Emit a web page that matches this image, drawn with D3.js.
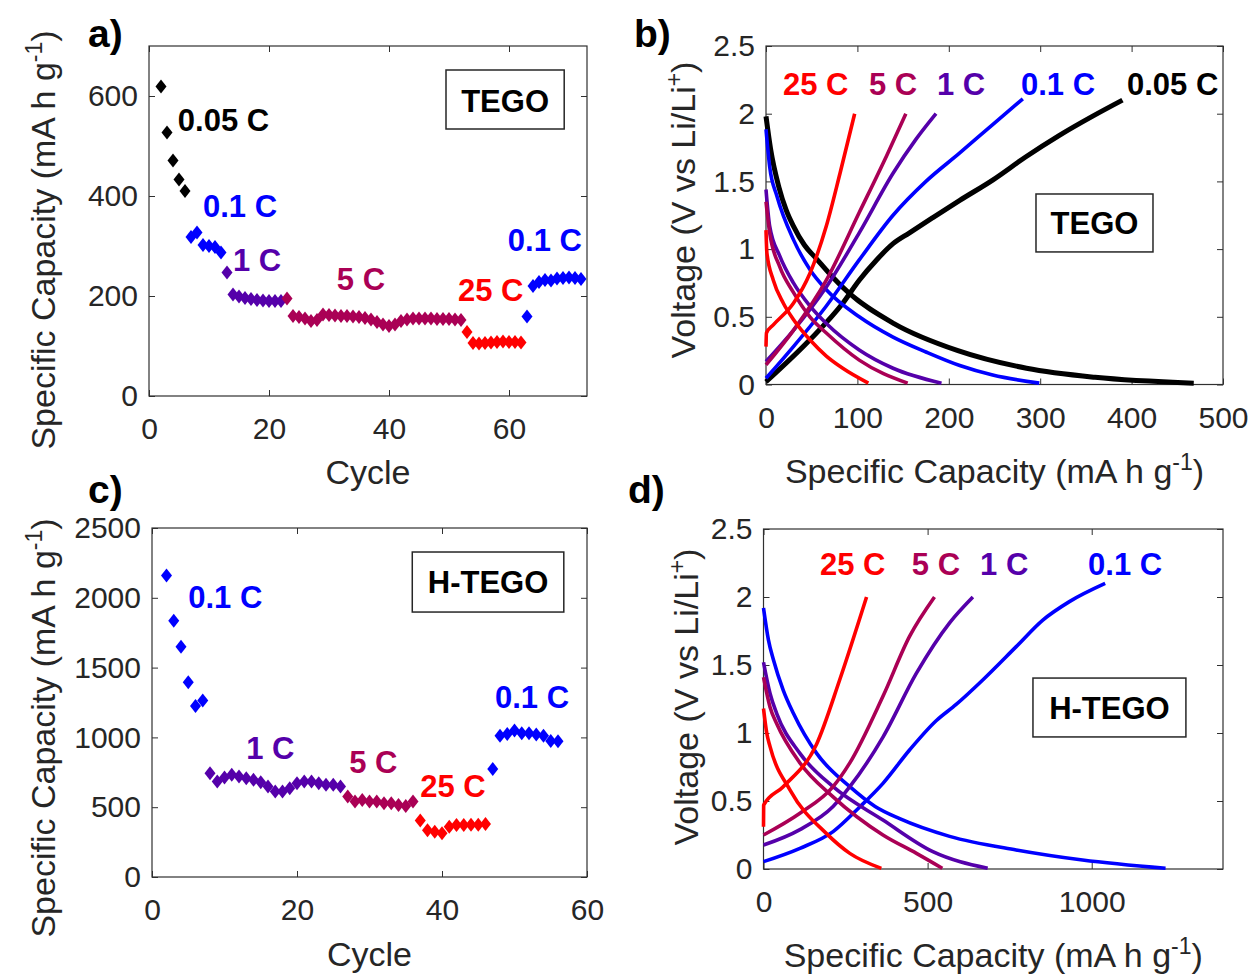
<!DOCTYPE html>
<html lang="en">
<head>
<meta charset="UTF-8">
<title>TEGO / H-TEGO rate performance</title>
<script src="https://cdn.jsdelivr.net/npm/d3@7"></script>
<style>
  body { margin: 0; background: #fff; }
  svg text { font-family: "Liberation Sans", Arial, sans-serif; }
</style>
</head>
<body>
<svg id="fig" width="1250" height="976"></svg>
<script>
// ---------- values ----------
const rateNames  = ["0.05 C", "0.1 C", "1 C", "5 C", "25 C"];
const rateColors = ["#000000", "#0000ff", "#5500aa", "#aa0055", "#ff0000"];

// a) TEGO, capacity vs cycle, one list per rate step
const tegoSteps = ["0.05 C", "0.1 C", "1 C", "5 C", "25 C", "0.1 C"];
const tegoFirstCycle = [2, 7, 13, 23, 53, 63];
const tegoCapacity = [
  [619, 527, 471, 433, 410],
  [318, 327, 302, 300, 298, 287],
  [247, 203, 199, 196, 194, 192, 191, 190, 190, 190],
  [195, 160, 158, 155, 150, 152, 163, 162, 161, 160, 160, 159, 158, 156, 153,
   148, 143, 140, 143, 150, 153, 155, 155, 155, 155, 154, 154, 154, 153, 152],
  [128, 106, 105, 106, 107, 108, 109, 108, 108, 107],
  [159, 220, 228, 232, 231, 235, 236, 237, 236, 234]
];

// c) H-TEGO, capacity vs cycle
const htegoSteps = ["0.1 C", "1 C", "5 C", "25 C", "0.1 C"];
const htegoFirstCycle = [2, 8, 27, 37, 47];
const htegoCapacity = [
  [2160, 1835, 1650, 1395, 1225, 1265],
  [744, 684, 712, 732, 720, 708, 696, 679, 648, 612, 612, 636, 672, 684, 684, 672, 660, 660, 648],
  [576, 540, 552, 540, 540, 528, 528, 516, 509, 540],
  [404, 335, 325, 313, 360, 373, 373, 375, 375, 380],
  [773, 1012, 1024, 1050, 1030, 1030, 1020, 1012, 975, 972]
];

// b) TEGO voltage profiles [capacity, voltage]
const tegoDis005 = [[0,1.98],[5,1.74],[14,1.46],[22,1.29],[30,1.17],[42,1.03],[55,0.93],[72,0.80],[90,0.68],[140,0.45],[210,0.25],[285,0.12],[360,0.053],[468,0.01]];
const tegoChg005 = [[0,0.02],[48,0.33],[84,0.60],[102,0.77],[121,0.92],[139,1.04],[157,1.12],[182,1.23],[212,1.36],[248,1.51],[284,1.68],[321,1.84],[357,1.98],[390,2.10]];
const tegoDis01  = [[0,1.885],[4,1.61],[12,1.39],[30,1.07],[48,0.85],[66,0.70],[102,0.50],[139,0.35],[175,0.24],[212,0.14],[248,0.07],[299,0.01]];
const tegoChg01  = [[0,0.046],[30,0.28],[66,0.58],[102,0.92],[139,1.25],[175,1.50],[212,1.71],[248,1.92],[281,2.11]];
const tegoDis1   = [[0,1.44],[4,1.17],[15,0.95],[30,0.75],[48,0.58],[66,0.45],[102,0.255],[139,0.12],[192,0.01]];
const tegoChg1   = [[0,0.17],[30,0.40],[66,0.72],[102,1.12],[139,1.56],[164,1.81],[186,2.0]];
const tegoDis5   = [[0,1.35],[4,1.12],[15,0.87],[30,0.68],[48,0.50],[66,0.38],[102,0.18],[155,0.01]];
const tegoChg5   = [[0,0.145],[30,0.40],[66,0.77],[102,1.27],[132,1.69],[153,2.0]];
const tegoDis25  = [[0,1.14],[1,0.97],[8,0.77],[19,0.60],[30,0.48],[48,0.33],[66,0.21],[84,0.12],[112,0.01]];
const tegoChg25  = [[0,0.28],[0.5,0.38],[8,0.44],[30,0.60],[48,0.82],[66,1.17],[81,1.56],[97,2.0]];

// d) H-TEGO voltage profiles [capacity, voltage]
const htegoDis01 = [[0,1.92],[15,1.685],[30,1.54],[60,1.316],[91,1.145],[162,0.85],[263,0.605],[340,0.46],[415,0.37],[567,0.24],[770,0.14],[972,0.066],[1225,0.005]];
const htegoChg01 = [[0,0.054],[111,0.152],[212,0.275],[294,0.458],[364,0.63],[445,0.875],[526,1.09],[587,1.21],[668,1.39],[770,1.635],[851,1.83],[932,1.966],[1041,2.10]];
const htegoDis1  = [[0,1.52],[20,1.29],[40,1.145],[111,0.85],[212,0.605],[364,0.36],[516,0.127],[683,0.005]];
const htegoChg1  = [[0,0.176],[111,0.29],[212,0.46],[263,0.605],[364,0.97],[466,1.44],[567,1.81],[638,2.0]];
const htegoDis5  = [[0,1.41],[20,1.19],[40,1.07],[111,0.78],[212,0.53],[364,0.25],[466,0.115],[545,0.005]];
const htegoChg5  = [[0,0.25],[111,0.41],[212,0.605],[263,0.78],[364,1.27],[445,1.71],[521,2.0]];
const htegoDis25 = [[0,1.18],[10,0.998],[20,0.90],[81,0.58],[192,0.26],[263,0.115],[359,0.005]];
const htegoChg25 = [[0,0.31],[0.5,0.47],[60,0.605],[162,0.92],[232,1.39],[314,2.0]];

// ---------- drawing ----------
const svg = d3.select("#fig");
const axisCol = "#303030";
const color = r => rateColors[rateNames.indexOf(r)];

function makePanel(box, xDom, yDom, xTicks, yTicks) {
  const x = d3.scaleLinear().domain(xDom).range([box.l, box.r]);
  const y = d3.scaleLinear().domain(yDom).range([box.b, box.t]);
  const g = svg.append("g");
  const fmt = d => String(d);

  const axes = [
    [d3.axisBottom(x).tickValues(xTicks).tickFormat(fmt).tickPadding(22), `translate(0,${box.b})`],
    [d3.axisTop(x).tickValues(xTicks).tickFormat(""), `translate(0,${box.t})`],
    [d3.axisLeft(y).tickValues(yTicks).tickFormat(fmt).tickPadding(11), `translate(${box.l},0)`],
    [d3.axisRight(y).tickValues(yTicks).tickFormat(""), `translate(${box.r},0)`]
  ];
  axes.forEach(([ax, tr]) => {
    const a = g.append("g").attr("transform", tr)
      .call(ax.tickSizeInner(-6).tickSizeOuter(0));
    a.select(".domain").remove();
    a.selectAll("line").attr("stroke", axisCol).attr("stroke-width", 1);
    a.selectAll("text").attr("fill", "#262626").style("font-size", "30px")
      .style("font-family", '"Liberation Sans", Arial, sans-serif');
  });
  g.append("rect")
    .attr("x", box.l).attr("y", box.t)
    .attr("width", box.r - box.l).attr("height", box.b - box.t)
    .attr("fill", "none").attr("stroke", axisCol).attr("stroke-width", 1.2);

  const plot = svg.append("g");
  return { g, plot, x, y, box };
}

function xLabel(p, text, baseline, sup) {
  const t = p.g.append("text")
    .attr("x", (p.box.l + p.box.r) / 2).attr("y", baseline)
    .attr("text-anchor", "middle").attr("fill", "#262626")
    .style("font-size", "34px");
  t.append("tspan").text(text);
  if (sup) {
    t.append("tspan").attr("dy", -13).style("font-size", "23px").text(sup);
    t.append("tspan").attr("dy", 13).text(")");
  }
}

function yLabel(p, text, sup, bx, cy) {
  const t = p.g.append("text")
    .attr("transform", `translate(${bx},${cy}) rotate(-90)`)
    .attr("text-anchor", "middle").attr("fill", "#262626")
    .style("font-size", "34px");
  t.append("tspan").text(text);
  t.append("tspan").attr("dy", -13).style("font-size", "23px").text(sup);
  t.append("tspan").attr("dy", 13).text(")");
}

function panelLetter(txt, x, y) {
  svg.append("text").attr("x", x).attr("y", y)
    .style("font-size", "39px").style("font-weight", "bold").text(txt);
}

function nameBox(p, x0, x1, y0, y1, textY, label) {
  p.plot.append("rect")
    .attr("x", p.x(x0)).attr("y", p.y(y0))
    .attr("width", p.x(x1) - p.x(x0)).attr("height", p.y(y1) - p.y(y0))
    .attr("fill", "#fff").attr("stroke", "#262626").attr("stroke-width", 1.5);
  p.plot.append("text")
    .attr("x", (p.x(x0) + p.x(x1)) / 2).attr("y", p.y(textY))
    .attr("text-anchor", "middle").style("font-size", "31px").style("font-weight", "bold")
    .text(label);
}

function rateText(p, label, cx, cy) {
  p.plot.append("text").attr("x", p.x(cx)).attr("y", p.y(cy))
    .attr("fill", color(label))
    .style("font-size", "31px").style("font-weight", "bold").text(label);
}

const diamond = "M0,-7L5.5,0L0,7L-5.5,0Z";
function cyclePoints(p, steps, firsts, caps) {
  steps.forEach((r, k) => {
    p.plot.selectAll(null).data(caps[k]).enter().append("path")
      .attr("d", diamond)
      .attr("transform", (v, i) => `translate(${p.x(firsts[k] + i)},${p.y(v)})`)
      .attr("fill", color(r));
  });
}

function profiles(p, curves, widths) {
  const line = d3.line().x(d => p.x(d[0])).y(d => p.y(d[1]))
    .curve(d3.curveMonotoneX);
  curves.forEach(([r, pts], k) => {
    p.plot.append("path").datum(pts).attr("d", line)
      .attr("fill", "none").attr("stroke", color(r))
      .attr("stroke-width", widths[k]).attr("stroke-linecap", "butt")
      .attr("stroke-linejoin", "round");
  });
}

// ---- a) ----
const pa = makePanel({ l: 149, r: 587, t: 46, b: 396 }, [0, 73], [0, 700], [0, 20, 40, 60], [0, 200, 400, 600]);
cyclePoints(pa, tegoSteps, tegoFirstCycle, tegoCapacity);
[[4.8, 530], [9, 359], [14, 251], [31.3, 212], [51.5, 191], [59.8, 291]]
  .forEach((pos, k) => rateText(pa, tegoSteps[k], pos[0], pos[1]));
nameBox(pa, 49.5, 69.2, 652, 534, 568, "TEGO");
xLabel(pa, "Cycle", 484);
yLabel(pa, "Specific Capacity (mA h g", "-1", 55, 240);
panelLetter("a)", 88, 47);

// ---- b) ----
const pb = makePanel({ l: 766, r: 1223, t: 46, b: 384.5 }, [0, 500], [0, 2.5], [0, 100, 200, 300, 400, 500], [0, 0.5, 1, 1.5, 2, 2.5]);
profiles(pb, [
  ["0.05 C", tegoDis005], ["0.05 C", tegoChg005],
  ["0.1 C", tegoDis01], ["0.1 C", tegoChg01],
  ["1 C", tegoDis1], ["1 C", tegoChg1],
  ["5 C", tegoDis5], ["5 C", tegoChg5],
  ["25 C", tegoDis25], ["25 C", tegoChg25]
], [5, 5, 3.6, 3.6, 3.6, 3.6, 3.6, 3.6, 3.6, 3.6]);
[["25 C", 18.6], ["5 C", 112.7], ["1 C", 187], ["0.1 C", 279], ["0.05 C", 395]]
  .forEach(([r, c]) => rateText(pb, r, c, 2.138));
nameBox(pb, 295.4, 423.4, 1.407, 0.979, 1.112, "TEGO");
xLabel(pb, "Specific Capacity (mA h g", 483, "-1");
yLabel(pb, "Voltage (V vs Li/Li", "+", 695, 210);
panelLetter("b)", 634, 47);

// ---- c) ----
const pc = makePanel({ l: 152, r: 587, t: 528, b: 877 }, [0, 60], [0, 2500], [0, 20, 40, 60], [0, 500, 1000, 1500, 2000, 2500]);
cyclePoints(pc, htegoSteps, htegoFirstCycle, htegoCapacity);
[[5, 1927], [13, 845], [27.2, 745], [37, 573], [47.3, 1211]]
  .forEach((pos, k) => rateText(pc, htegoSteps[k], pos[0], pos[1]));
nameBox(pc, 35.9, 56.8, 2328, 1898, 2034, "H-TEGO");
xLabel(pc, "Cycle", 966);
yLabel(pc, "Specific Capacity (mA h g", "-1", 55, 728);
panelLetter("c)", 88, 503);

// ---- d) ----
const pd = makePanel({ l: 763.5, r: 1223, t: 529, b: 869 }, [0, 1400], [0, 2.5], [0, 500, 1000], [0, 0.5, 1, 1.5, 2, 2.5]);
profiles(pd, [
  ["0.1 C", htegoDis01], ["0.1 C", htegoChg01],
  ["1 C", htegoDis1], ["1 C", htegoChg1],
  ["5 C", htegoDis5], ["5 C", htegoChg5],
  ["25 C", htegoDis25], ["25 C", htegoChg25]
], [3.6, 3.6, 3.6, 3.6, 3.6, 3.6, 3.6, 3.6]);
[["25 C", 172], ["5 C", 452], ["1 C", 660], ["0.1 C", 989]]
  .forEach(([r, c]) => rateText(pd, r, c, 2.162));
nameBox(pd, 821, 1287, 1.404, 0.971, 1.103, "H-TEGO");
xLabel(pd, "Specific Capacity (mA h g", 967, "-1");
yLabel(pd, "Voltage (V vs Li/Li", "+", 698, 697);
panelLetter("d)", 628, 503);
</script>
</body>
</html>
